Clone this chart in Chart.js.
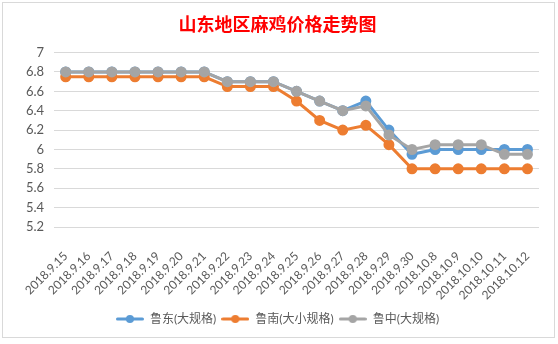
<!DOCTYPE html>
<html>
<head>
<meta charset="utf-8">
<script src="https://cdn.jsdelivr.net/npm/chart.js@4"></script>
<style>
  html, body { margin: 0; padding: 0; background: #fff; }
  #box {
    position: absolute; left: 2px; top: 2px;
    width: 553px; height: 336px;
    border: 1px solid #d9d9d9; box-sizing: border-box;
  }
</style>
</head>
<body>
<div id="box"><canvas id="grafico"></canvas></div>
<script>
// Datos del gráfico
const fechas = ['2018.9.15', '2018.9.16', '2018.9.17', '2018.9.18', '2018.9.19', '2018.9.20', '2018.9.21',
    '2018.9.22', '2018.9.23', '2018.9.24', '2018.9.25', '2018.9.26', '2018.9.27', '2018.9.28', '2018.9.29',
    '2018.9.30', '2018.10.8', '2018.10.9', '2018.10.10', '2018.10.11', '2018.10.12'];
const ludong = [6.8, 6.8, 6.8, 6.8, 6.8, 6.8, 6.8, 6.7, 6.7, 6.7, 6.6, 6.5, 6.4, 6.5, 6.2, 5.95, 6.0, 6.0, 6.0, 6.0, 6.0];
const lunan = [6.75, 6.75, 6.75, 6.75, 6.75, 6.75, 6.75, 6.65, 6.65, 6.65, 6.5, 6.3, 6.2, 6.25, 6.05, 5.8, 5.8, 5.8, 5.8, 5.8, 5.8];
const luzhong = [6.8, 6.8, 6.8, 6.8, 6.8, 6.8, 6.8, 6.7, 6.7, 6.7, 6.6, 6.5, 6.4, 6.45, 6.15, 6.0, 6.05, 6.05, 6.05, 5.95, 5.95];
const nombres = ['鲁东(大规格)', '鲁南(大小规格)', '鲁中(大规格)'];
const colores = ['#5B9BD5', '#ED7D31', '#A5A5A5'];
const ejeY = { min: 5.2, max: 7, paso: 0.2 };

const fuente = 'Lato, "Noto Sans CJK SC", sans-serif';
const series = [ludong, lunan, luzhong];

// icono de leyenda: línea con punto
function iconoLeyenda(color) {
    const c = document.createElement('canvas');
    c.width = 28; c.height = 10;
    const g = c.getContext('2d');
    g.strokeStyle = color; g.lineWidth = 3; g.lineCap = 'round';
    g.beginPath(); g.moveTo(1.5, 5); g.lineTo(26.5, 5); g.stroke();
    g.fillStyle = color;
    g.beginPath(); g.arc(14, 5, 4, 0, Math.PI * 2); g.fill();
    return c;
}

const ctx = document.getElementById('grafico').getContext('2d');
new Chart(ctx, {
    type: 'line',
    data: {
        labels: fechas,
        datasets: series.map((d, i) => ({
            label: nombres[i],
            data: d,
            borderColor: colores[i],
            backgroundColor: colores[i],
            borderWidth: 3,
            pointRadius: 4,
            pointHoverRadius: 4,
            tension: 0,
            order: 3 - i   // el gris queda encima
        }))
    },
    options: {
        responsive: true,
        maintainAspectRatio: false,
        animation: false,
        layout: { padding: { left: 13, right: 15, top: 0, bottom: 2 } },
        plugins: {
            title: {
                display: true,
                text: '山东地区麻鸡价格走势图',
                color: '#FF0000',
                font: { family: '"Noto Sans CJK SC", sans-serif', size: 18, weight: 'bold' },
                padding: { top: 10, bottom: 18 }
            },
            legend: {
                position: 'bottom',
                labels: {
                    color: '#595959',
                    font: { family: fuente, size: 12 },
                    usePointStyle: true,
                    pointStyleWidth: 28,
                    padding: 5,
                    generateLabels: () => nombres.map((n, i) => ({
                        text: n,
                        fillStyle: colores[i],
                        strokeStyle: colores[i],
                        pointStyle: iconoLeyenda(colores[i]),
                        datasetIndex: i,
                        fontColor: '#595959'
                    }))
                }
            },
            tooltip: { enabled: false }
        },
        scales: {
            x: {
                offset: true,
                grid: { display: false },
                border: { display: false },
                afterFit: (s) => { s.height = 81; },
                ticks: {
                    color: '#595959',
                    font: { family: fuente, size: 12 },
                    minRotation: 45,
                    maxRotation: 45,
                    autoSkip: false,
                    padding: 14
                }
            },
            y: {
                min: ejeY.min,
                max: ejeY.max,
                border: { display: false },
                grid: { color: '#D9D9D9', lineWidth: 1, drawTicks: false },
                ticks: {
                    stepSize: ejeY.paso,
                    autoSkip: false,
                    color: '#595959',
                    font: { family: fuente, size: 13 },
                    padding: 10,
                    callback: (v) => Math.round(v * 10) / 10
                }
            }
        }
    }
});
</script>
</body>
</html>
